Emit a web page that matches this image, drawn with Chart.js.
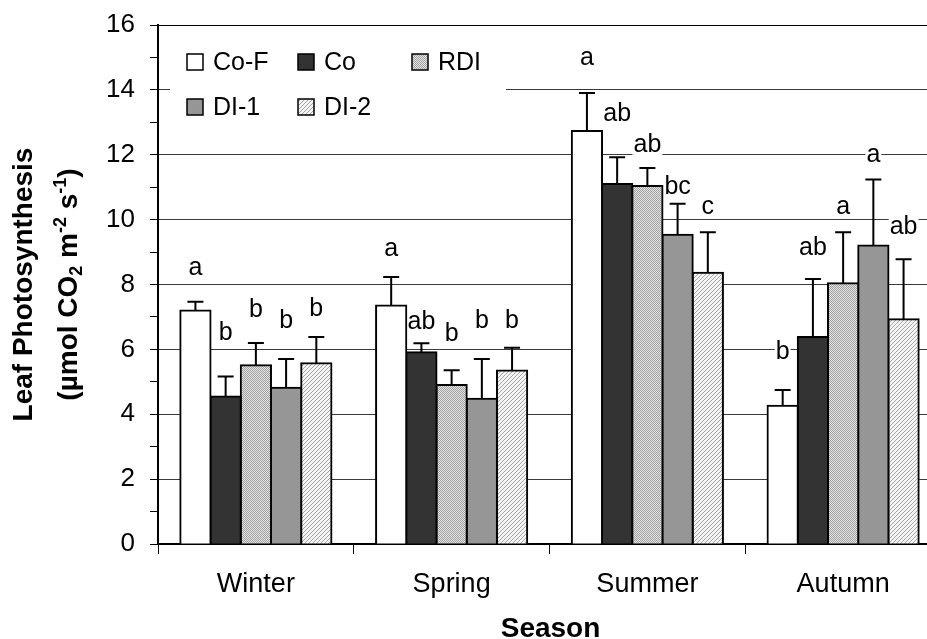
<!DOCTYPE html>
<html lang="en">
<head>
    <meta charset="UTF-8">
    <title>Leaf Photosynthesis by Season</title>
    <script src="https://cdn.jsdelivr.net/npm/chart.js"></script>
    <style>
        * { margin: 0; padding: 0; box-sizing: border-box; }
        body { background: #fff; overflow: hidden; width: 927px; height: 639px; }
        .chart-box { width: 945px; height: 639px; }
    </style>
</head>
<body>
    <div class="chart-box"><canvas id="photoChart"></canvas></div>

    <script>
        // ---- data ----
        const categories = ['Winter', 'Spring', 'Summer', 'Autumn'];
        const seriesNames = ['Co-F', 'Co', 'RDI', 'DI-1', 'DI-2'];

        const coF = [7.20, 7.35, 12.73, 4.26];
        const co  = [4.55, 5.91, 11.10, 6.38];
        const rdi = [5.51, 4.90, 11.04, 8.04];
        const di1 = [4.82, 4.48, 9.53, 9.20];
        const di2 = [5.57, 5.35, 8.36, 6.93];

        // upper error (SE) for each bar
        const coFErr = [0.27, 0.88, 1.17, 0.49];
        const coErr  = [0.61, 0.28, 0.82, 1.79];
        const rdiErr = [0.69, 0.46, 0.55, 1.57];
        const di1Err = [0.88, 1.22, 0.96, 2.04];
        const di2Err = [0.81, 0.70, 1.25, 1.85];

        // significance letters and the value they sit at
        const coFLetters = ['a', 'a', 'a', 'b'];
        const coLetters  = ['b', 'ab', 'ab', 'ab'];
        const rdiLetters = ['b', 'b', 'ab', 'a'];
        const di1Letters = ['b', 'b', 'bc', 'a'];
        const di2Letters = ['b', 'b', 'c', 'ab'];

        const coFLetterAt = [8.54, 9.11, 15.00, 5.96];
        const coLetterAt  = [6.53, 6.88, 13.29, 9.15];
        const rdiLetterAt = [7.24, 6.49, 12.33, 10.43];
        const di1LetterAt = [6.90, 6.90, 11.04, 12.02];
        const di2LetterAt = [7.27, 6.90, 10.42, 9.81];

        const FONT = "'Liberation Sans', Arial, sans-serif";

        // fill patterns like the old Excel ones
        function dotPattern() {
            const c = document.createElement('canvas');
            c.width = 2; c.height = 2;
            const g = c.getContext('2d');
            g.fillStyle = '#e4e4e4'; g.fillRect(0, 0, 2, 2);
            g.fillStyle = '#a0a0a0'; g.fillRect(0, 0, 1, 1); g.fillRect(1, 1, 1, 1);
            return g.createPattern(c, 'repeat');
        }

        function hatchPattern() {
            const c = document.createElement('canvas');
            c.width = 4; c.height = 4;
            const g = c.getContext('2d');
            g.fillStyle = '#f4f4f4'; g.fillRect(0, 0, 4, 4);
            g.fillStyle = '#a6a6a6';
            for (let i = 0; i < 4; i++) g.fillRect(3 - i, i, 1, 1);
            return g.createPattern(c, 'repeat');
        }

        const fills = ['#ffffff', '#333333', dotPattern(), '#969696', hatchPattern()];
        const values = [coF, co, rdi, di1, di2];
        const errors = [coFErr, coErr, rdiErr, di1Err, di2Err];
        const letters = [coFLetters, coLetters, rdiLetters, di1Letters, di2Letters];
        const letterAt = [coFLetterAt, coLetterAt, rdiLetterAt, di1LetterAt, di2LetterAt];

        const datasets = seriesNames.map((name, i) => ({
            label: name,
            data: values[i],
            backgroundColor: fills[i],
            borderColor: '#000',
            borderWidth: 2,
            inflateAmount: 1,
            barPercentage: 1.0,
            categoryPercentage: 0.772
        }));

        function letterFont() { return '25px ' + FONT; }

        const decorations = {
            id: 'decorations',
            beforeDatasetsDraw(chart) {
                const ctx = chart.ctx;
                const y = chart.scales.y;
                ctx.save();

                // white backing behind the letters (hides grid lines)
                ctx.font = letterFont();
                datasets.forEach((ds, i) => {
                    const meta = chart.getDatasetMeta(i);
                    meta.data.forEach((bar, j) => {
                        const txt = letters[i][j];
                        const w = ctx.measureText(txt).width;
                        const base = y.getPixelForValue(letterAt[i][j]) + 8;
                        ctx.fillStyle = '#fff';
                        ctx.fillRect(bar.x - w / 2 - 1, base - 20, w + 2, 23);
                    });
                });

                // legend
                ctx.fillStyle = '#fff';
                ctx.fillRect(170, 36, 336, 90);
                const colX = [187, 298, 412];
                const rowY = [62, 107];
                ctx.font = '25px ' + FONT;
                ctx.textBaseline = 'middle';
                ctx.textAlign = 'left';
                seriesNames.forEach((name, i) => {
                    const bx = colX[i % 3];
                    const by = rowY[Math.floor(i / 3)];
                    ctx.fillStyle = fills[i];
                    ctx.fillRect(bx, by - 8, 16, 16);
                    ctx.lineWidth = 1.5;
                    ctx.strokeStyle = '#000';
                    ctx.strokeRect(bx, by - 8, 16, 16);
                    ctx.fillStyle = '#000';
                    ctx.fillText(name, bx + 26, by + 1);
                });
                ctx.restore();
            },
            afterDatasetsDraw(chart) {
                const ctx = chart.ctx;
                const y = chart.scales.y;
                ctx.save();
                ctx.strokeStyle = '#000';
                ctx.lineWidth = 2;
                datasets.forEach((ds, i) => {
                    const meta = chart.getDatasetMeta(i);
                    meta.data.forEach((bar, j) => {
                        const top = y.getPixelForValue(values[i][j] + errors[i][j]);
                        ctx.beginPath();
                        ctx.moveTo(bar.x, bar.y);
                        ctx.lineTo(bar.x, top);
                        ctx.moveTo(bar.x - 8, top);
                        ctx.lineTo(bar.x + 8, top);
                        ctx.stroke();
                    });
                });

                ctx.fillStyle = '#000';
                ctx.font = letterFont();
                ctx.textAlign = 'center';
                ctx.textBaseline = 'alphabetic';
                datasets.forEach((ds, i) => {
                    const meta = chart.getDatasetMeta(i);
                    meta.data.forEach((bar, j) => {
                        ctx.fillText(letters[i][j], bar.x, y.getPixelForValue(letterAt[i][j]) + 8);
                    });
                });
                ctx.restore();
            },
            afterDraw(chart) {
                const ctx = chart.ctx;
                const area = chart.chartArea;
                ctx.save();
                ctx.fillStyle = '#000';

                // x-axis title
                ctx.font = 'bold 28px ' + FONT;
                ctx.textAlign = 'center';
                ctx.textBaseline = 'alphabetic';
                ctx.fillText('Season', (area.left + area.right) / 2 + 1, 637);

                // y-axis title with sub/superscripts
                const cy = (area.top + area.bottom) / 2;
                ctx.translate(0, cy);
                ctx.rotate(-Math.PI / 2);
                ctx.fillText('Leaf Photosynthesis', 0, 32);

                const big = 'bold 28px ' + FONT;
                const small = 'bold 18px ' + FONT;
                const parts = [
                    ['(µmol CO', big, 0],
                    ['2', small, 5],
                    [' m', big, 0],
                    ['-2', small, -11],
                    [' s', big, 0],
                    ['-1', small, -11],
                    [')', big, 0]
                ];
                ctx.textAlign = 'left';
                let total = 0;
                parts.forEach(p => { ctx.font = p[1]; total += ctx.measureText(p[0]).width; });
                let x = -total / 2;
                parts.forEach(p => {
                    ctx.font = p[1];
                    ctx.fillText(p[0], x, 77 + p[2]);
                    x += ctx.measureText(p[0]).width;
                });
                ctx.restore();
            }
        };

        new Chart(document.getElementById('photoChart'), {
            type: 'bar',
            data: { labels: categories, datasets: datasets },
            options: {
                responsive: true,
                maintainAspectRatio: false,
                animation: false,
                layout: { padding: { top: 25, right: 4, left: 0, bottom: 0 } },
                plugins: {
                    legend: { display: false },
                    tooltip: { enabled: false }
                },
                scales: {
                    x: {
                        offset: true,
                        grid: {
                            offset: true,
                            drawOnChartArea: false,
                            tickLength: 10,
                            tickColor: '#000',
                            color: '#000'
                        },
                        border: { color: '#000', width: 2 },
                        ticks: {
                            color: '#000',
                            padding: 17,
                            font: { family: FONT, size: 27, lineHeight: 1 }
                        },
                        afterFit(scale) { scale.height = 95; }
                    },
                    y: {
                        min: 0,
                        max: 16,
                        grid: {
                            color: c => {
                                const v = c.tick ? c.tick.value : 0;
                                if (v === 16) return '#000';
                                return v % 2 === 0 ? '#3a3a3a' : 'rgba(0,0,0,0)';
                            },
                            tickColor: '#000',
                            tickLength: 8,
                            lineWidth: 1
                        },
                        border: { color: '#000', width: 2 },
                        ticks: {
                            stepSize: 1,
                            autoSkip: false,
                            color: '#000',
                            padding: 15,
                            // small lineHeight so the top label does not push the plot down
                            font: { family: FONT, size: 26, lineHeight: 0.6 },
                            callback: v => (v % 2 === 0 ? v : '')
                        },
                        afterFit(scale) { scale.width = 158; }
                    }
                }
            },
            plugins: [decorations]
        });
    </script>
</body>
</html>
